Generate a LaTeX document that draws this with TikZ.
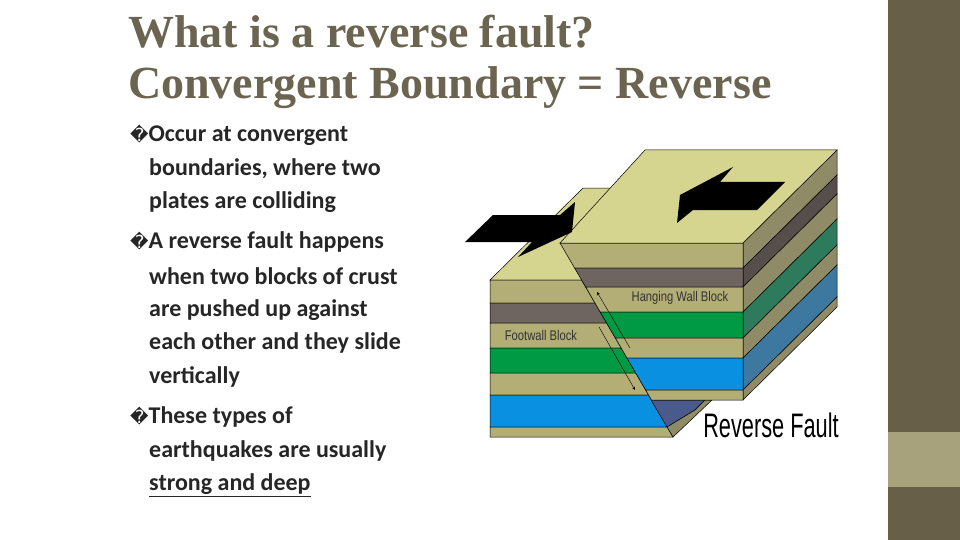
\documentclass[tikz,border=0pt]{standalone}
\usepackage{fontspec}
\setmainfont{Carlito}
\newfontfamily\titlefont{Liberation Serif}
\newfontfamily\symfont{DejaVu Sans}
\newfontfamily\labfont{Liberation Sans}
\definecolor{titlec}{HTML}{6B6450}
\definecolor{barc}{HTML}{675F47}
\definecolor{barl}{HTML}{A8A27C}
\definecolor{toptan}{HTML}{D6D58F}
\definecolor{ftan}{HTML}{B2AE76}
\definecolor{fbrown}{HTML}{6E6560}
\definecolor{fgreen}{HTML}{009A44}
\definecolor{fblue}{HTML}{0A90E0}
\definecolor{stan}{HTML}{8E8B66}
\definecolor{sbrown}{HTML}{564E4B}
\definecolor{sgreen}{HTML}{2E7A5C}
\definecolor{sblue}{HTML}{3D78A0}
\definecolor{dblue}{HTML}{4A5A8A}
\tikzset{face/.style={draw=black,line width=0.5pt},
 bul/.style={anchor=west,font=\bfseries\fontsize{24}{24}\selectfont,text=black!85,inner sep=0},
 lab/.style={font=\labfont\fontsize{14}{14}\selectfont,text=black!80,inner sep=0}}
\begin{document}
\begin{tikzpicture}[x=1pt,y=-1pt]
\useasboundingbox (0,0) rectangle (960,540);
\fill[white] (0,0) rectangle (960,540);
\fill[barc] (888,0) rectangle (960,540);
\fill[barl] (888,432) rectangle (960,487);
\node[anchor=west,inner sep=0,text=titlec,font=\titlefont\bfseries\fontsize{46}{46}\selectfont] (t1) at (128,32) {What is a reverse fault?};
\node[anchor=west,inner sep=0,text=titlec,font=\titlefont\bfseries\fontsize{46}{46}\selectfont] (t2) at (128,88) {Convergent Boundary = Reverse};
\foreach \y/\b/\t [count=\i] in {135/1/Occur at convergent,169/0/{boundaries, where two},202/0/plates are colliding,242/1/A reverse fault happens,276/0/when two blocks of crust,310/0/are pushed up against,343/0/each other and they slide,377/0/vertically,417/1/These types of,451/0/earthquakes are usually}{
 \ifnum\b=1 \node[bul] (b\i) at (130,\y) {{\symfont\mdseries\fontsize{18}{18}\selectfont\char"FFFD}\t};
 \else \node[bul] (b\i) at (149,\y) {\t}; \fi}
\node[bul] (b11) at (149,485) {\underline{strong and deep}};
% footwall top
\fill[toptan,face] (490,280) -- (583,188) -- (680,188) -- (587,280) -- cycle;
% footwall front layers
\foreach \ya/\yb/\c in {280/303/ftan,303/323/fbrown,323/348/ftan,348/373/fgreen,373/395/ftan,395/427/fblue,427/437/ftan}{
 \pgfmathsetmacro\xa{560+(\ya-243)*0.5825}
 \pgfmathsetmacro\xb{560+(\yb-243)*0.5825}
 \fill[\c,face] (490,\ya) -- (\xa,\ya) -- (\xb,\yb) -- (490,\yb) -- cycle;}
% footwall side visible bit
\fill[dblue,face] (651,400) -- (705,400) -- (695,410) -- (667,427) -- cycle;
\fill[stan,face] (667,427) -- (695,410) -- (705,400) -- (712,400) -- (673,437) -- cycle;
% hanging wall side and front
\foreach \ya/\yb/\c/\s in {243/268/ftan/stan,268/287/fbrown/sbrown,287/312/ftan/stan,312/338/fgreen/sgreen,338/358/ftan/stan,358/390/fblue/sblue,390/400/ftan/stan}{
 \pgfmathsetmacro\xa{560+(\ya-243)*0.5825}
 \pgfmathsetmacro\xb{560+(\yb-243)*0.5825}
 \fill[\s,face] (743,\ya) -- (837,\ya-93) -- (837,\yb-93) -- (743,\yb) -- cycle;
 \fill[\c,face] (\xa,\ya) -- (743,\ya) -- (743,\yb) -- (\xb,\yb) -- cycle;}
\fill[toptan,face] (560,243) -- (645,150) -- (837,150) -- (743,243) -- cycle;
% arrows
\fill[black] (465,242) -- (493,215) -- (560,215) -- (575,202) -- (572,232) -- (518,257) -- (532,242) -- cycle;
\fill[black] (785,182) -- (757,210) -- (693,210) -- (677,223) -- (680,195) -- (733,167) -- (720,182) -- cycle;
\coordinate (a1) at (597,292); \coordinate (a2) at (630,348);
\coordinate (a3) at (599,327); \coordinate (a4) at (635,390);
\draw[-stealth,thin] (a2) -- (a1);
\draw[-stealth,thin] (a3) -- (a4);
\node[lab,xscale=0.8] (hw) at (680,298) {Hanging Wall Block};
\node[lab,xscale=0.8] (fw) at (541,335) {Footwall Block};
\node[lab,xscale=0.64,font=\labfont\fontsize{34}{34}\selectfont,text=black] (rf) at (771,425) {Reverse Fault};
\end{tikzpicture}
\end{document}
